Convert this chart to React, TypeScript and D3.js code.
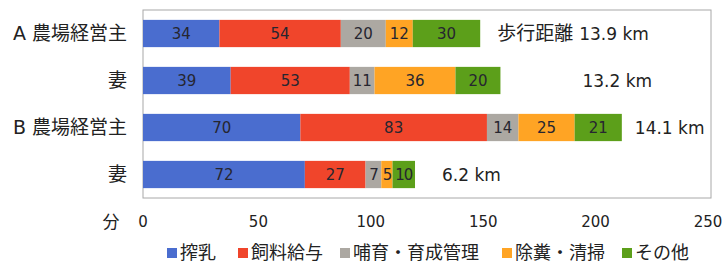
import React from "react";
import * as d3 from "d3";

const categories = ["A 農場経営主", "妻", "B 農場経営主", "妻"];
const seriesNames = ["搾乳", "飼料給与", "哺育・育成管理", "除糞・清掃", "その他"];
const milking = [34, 39, 70, 72];
const feeding = [54, 53, 83, 27];
const rearing = [20, 11, 14, 7];
const cleaning = [12, 36, 25, 5];
const other = [30, 20, 21, 10];
const distPrefix = ["歩行距離", "", "", ""];
const distances = ["13.9 km", "13.2 km", "14.1 km", "6.2 km"];
const ticks = [0, 50, 100, 150, 200, 250];

const colors = ["#4a6dcf", "#f0452b", "#aca8a2", "#ffa424", "#5c9f1a"];
// where each distance label starts, px right of its bar's end
const distOffset = [17, 82, 13, 27];
const legendX = [167, 238, 340, 502, 622];

const W = 725;
const H = 268;
const jp = "'DejaVu Sans', 'Noto Sans CJK JP', sans-serif";

export default function App() {
  const x = d3.scaleLinear().domain([0, 250]).range([143, 705]);
  const y = d3
    .scaleBand<number>()
    .domain(d3.range(categories.length))
    .range([10, 198])
    .paddingInner(0.42)
    .paddingOuter(0.21);

  const rows = categories.map((c, i) => ({
    i,
    values: [milking[i], feeding[i], rearing[i], cleaning[i], other[i]],
  }));

  return (
    <svg
      width={W}
      height={H}
      style={{ position: "absolute", left: 0, top: 0, background: "#fff" }}
      fontFamily={jp}
    >
      <rect x={143} y={10} width={568} height={188} fill="none" stroke="#a8a8a8" strokeWidth={1} />

      {rows.map((r) => {
        let acc = 0;
        const yy = y(r.i)!;
        const bh = y.bandwidth();
        const segs = r.values.map((v, k) => {
          const x0 = x(acc);
          acc += v;
          const x1 = x(acc);
          return (
            <g key={k}>
              <rect x={x0} y={yy} width={x1 - x0} height={bh} fill={colors[k]} />
              <text
                x={(x0 + x1) / 2}
                y={yy + bh / 2}
                dy="0.36em"
                textAnchor="middle"
                fontSize={15}
                fill="#262630"
                letterSpacing={k >= 2 && v < 11 ? -1 : 0}
              >
                {v}
              </text>
            </g>
          );
        });
        return (
          <g key={r.i}>
            {segs}
            <text x={x(acc) + distOffset[r.i]} y={yy + bh / 2} dy="0.36em" fontSize={17} fill="#222">
              {distPrefix[r.i] && <tspan fontSize={19}>{distPrefix[r.i] + " "}</tspan>}
              {distances[r.i]}
            </text>
            <text x={127} y={yy + bh / 2} dy="0.36em" textAnchor="end" fontSize={19} fill="#222">
              {categories[r.i]}
            </text>
          </g>
        );
      })}

      {ticks.map((t) => (
        <text key={t} x={x(t) + (t === 0 ? 0 : 3)} y={222} dy="0.36em" textAnchor="middle" fontSize={15} fill="#222">
          {t}
        </text>
      ))}
      <text x={111} y={222} dy="0.36em" textAnchor="middle" fontSize={17} fill="#222">
        分
      </text>

      {seriesNames.map((s, k) => (
        <g key={s} transform={`translate(${legendX[k]},253)`}>
          <rect x={0} y={-5} width={10} height={10} fill={colors[k]} />
          <text x={13} y={0} dy="0.36em" fontSize={18} fill="#222">
            {s}
          </text>
        </g>
      ))}
    </svg>
  );
}
